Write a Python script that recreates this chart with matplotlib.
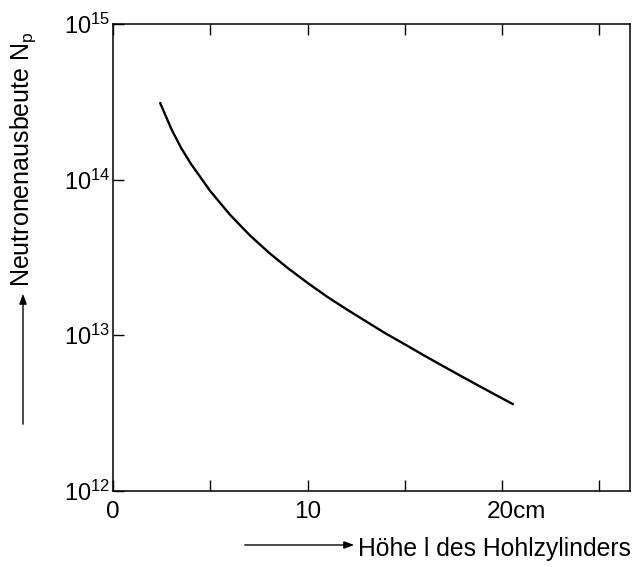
import matplotlib
matplotlib.use("Agg")
import matplotlib.pyplot as plt
from matplotlib.transforms import ScaledTranslation

plt.rcParams['font.family'] = ['Liberation Sans', 'DejaVu Sans']
plt.rcParams['mathtext.fontset'] = 'custom'
plt.rcParams['mathtext.rm'] = 'Liberation Sans'
plt.rcParams['mathtext.it'] = 'Liberation Sans'

# Hoehe l des Hohlzylinders (cm) und Neutronenausbeute Np
hoehe = [2.42, 3, 3.5, 4, 5, 6, 7, 8, 9, 10, 11, 12, 13, 14, 15, 16, 17, 18, 19, 20, 20.55]
ausbeute = [3.09e14, 2.10e14, 1.59e14, 1.26e14, 8.41e13, 5.96e13, 4.42e13, 3.40e13,
            2.69e13, 2.17e13, 1.77e13, 1.47e13, 1.23e13, 1.03e13, 8.75e12, 7.41e12,
            6.31e12, 5.38e12, 4.60e12, 3.94e12, 3.62e12]

x_ticks = [0, 5, 10, 15, 20, 25]
x_labels = ["0", "", "10", "", "20cm", ""]
y_ticks = [1e12, 1e13, 1e14, 1e15]
y_labels = [r"$10^{12}$", r"$10^{13}$", r"$10^{14}$", r"$10^{15}$"]

fig = plt.figure(figsize=(6.36, 5.67), dpi=100)
ax = fig.add_axes([0.178, 0.134, 0.813, 0.824])

ax.plot(hoehe, ausbeute, color='black', lw=1.7, solid_joinstyle='round')

ax.set_yscale('log')
ax.set_xlim(0, 26.6)
ax.set_ylim(1e12, 1e15)

ax.set_xticks(x_ticks)
ax.set_xticklabels(x_labels, fontsize=17.5)
ax.set_yticks(y_ticks)
ax.set_yticklabels(y_labels, fontsize=17)
ax.yaxis.set_minor_locator(matplotlib.ticker.NullLocator())

ax.tick_params(axis='x', direction='in', length=8, width=1, top=True, pad=7)
ax.tick_params(axis='y', direction='in', length=8, width=1, right=False, pad=2)

# "20" mittig unter dem Strich, "cm" rechts daneben
lbl = ax.get_xticklabels()[4]
lbl.set_transform(lbl.get_transform() + ScaledTranslation(14/100, 0, fig.dpi_scale_trans))

for s in ax.spines.values():
    s.set_linewidth(1.1)

# Achsenbeschriftung mit Pfeilen
fig.text(358/636, 1 - 549/567, "Höhe l des Hohlzylinders", fontsize=17.8,
         ha='left', va='center')
fig.add_artist(matplotlib.patches.FancyArrowPatch(
    (242/636, 1 - 545/567), (357/636, 1 - 545/567), transform=fig.transFigure,
    arrowstyle='-|>,head_length=6,head_width=2.2', color='black', lw=1))

fig.text(23/636, 1 - 159/567, r"Neutronenausbeute N$_{\mathrm{p}}$", fontsize=18,
         rotation=90, ha='center', va='center')
fig.add_artist(matplotlib.patches.FancyArrowPatch(
    (23/636, 1 - 427/567), (23/636, 1 - 291/567), transform=fig.transFigure,
    arrowstyle='-|>,head_length=6,head_width=2.2', color='black', lw=1))

fig.savefig("out.png", dpi=100)
